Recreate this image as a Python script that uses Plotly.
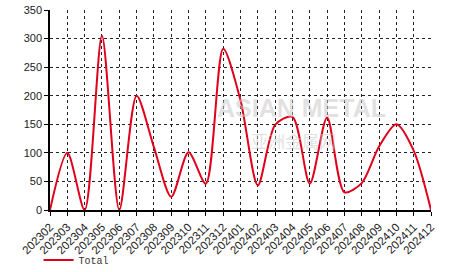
import plotly.graph_objects as go

months = ["202302","202303","202304","202305","202306","202307","202308","202309",
          "202310","202311","202312","202401","202402","202403","202404","202405",
          "202406","202407","202408","202409","202410","202411","202412"]
total = [0, 100, 0, 305, 0, 200, 110, 23, 101, 46, 282, 192, 43, 149, 163, 46,
         162, 31, 47, 111, 150, 104, 0]
y_ticks = [0, 50, 100, 150, 200, 250, 300, 350]

fig = go.Figure()
fig.add_annotation(text="<b>ASIAN METAL</b>", x=0.66, y=0.51, xref="paper", yref="paper",
                   showarrow=False, font=dict(family="Liberation Sans", size=25, color="rgba(200,200,200,0.55)"))
fig.add_annotation(text="亚洲金属网", x=0.64, y=0.35, xref="paper", yref="paper",
                   showarrow=False, font=dict(family="Noto Sans CJK SC", size=17, color="rgba(200,200,200,0.55)"))
fig.add_trace(go.Scatter(
    x=months, y=total, mode="lines", name="Total",
    line=dict(color="#e0001b", width=2, shape="spline", smoothing=0.8),
))

fig.update_layout(
    width=466, height=272,
    margin=dict(l=50, r=35, t=10, b=62, autoexpand=False),
    paper_bgcolor="white", plot_bgcolor="white",
    showlegend=True,
    legend=dict(x=-0.03, y=-0.25, xanchor="left", yanchor="middle",
                orientation="h", font=dict(family="Liberation Mono", size=10, color="#333333"),
                bgcolor="rgba(0,0,0,0)"),
    xaxis=dict(
        type="category", range=[0, len(months) - 1], automargin=False,
        showgrid=True, gridcolor="#222222", griddash="dot", gridwidth=1,
        showline=True, linecolor="black", linewidth=1.5,
        ticks="outside", ticklen=4, tickcolor="black",
        tickangle=-45, tickfont=dict(family="Liberation Sans", size=11.5, color="#222222"),
    ),
    yaxis=dict(
        range=[0, 350], tickvals=y_ticks, automargin=False,
        showgrid=True, gridcolor="#222222", griddash="dot", gridwidth=1,
        showline=True, linecolor="black", linewidth=1.5,
        ticks="outside", ticklen=4, tickcolor="black",
        tickfont=dict(family="Liberation Sans", size=11, color="#222222"),
        zeroline=False,
    ),
)

fig.write_html("out.html")
